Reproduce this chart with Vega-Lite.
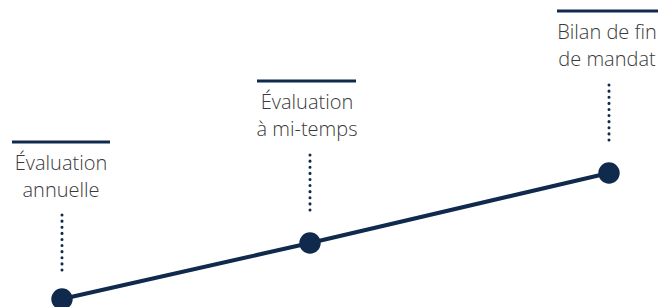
{
  "$schema": "https://vega.github.io/schema/vega-lite/v6.json",
  "width": 660,
  "height": 307,
  "padding": 0,
  "autosize": {"type": "none"},
  "background": "white",
  "config": {"view": {"stroke": null}},
  "data": {
    "values": [
      {"stage": "Évaluation\nannuelle", "t": 62, "value": 8, "span0": 12, "span1": 110, "head": 165, "text": 137, "dotTop": 92, "dotBottom": 34, "tx": 61},
      {"stage": "Évaluation\nà mi-temps", "t": 310, "value": 64, "span0": 257, "span1": 356, "head": 226, "text": 198, "dotTop": 152, "dotBottom": 95, "tx": 307},
      {"stage": "Bilan de fin\nde mandat", "t": 609, "value": 134, "span0": 557, "span1": 658, "head": 296, "text": 268, "dotTop": 222, "dotBottom": 166, "tx": 607}
    ]
  },
  "layer": [
    {
      "mark": {"type": "rule", "color": "#0f2a4c", "strokeWidth": 3},
      "encoding": {
        "x": {"field": "span0", "type": "quantitative", "scale": {"domain": [0, 660], "nice": false, "zero": false}, "axis": null},
        "x2": {"field": "span1"},
        "y": {"field": "head", "type": "quantitative", "scale": {"domain": [0, 307], "nice": false, "zero": false}, "axis": null}
      }
    },
    {
      "mark": {"type": "text", "font": "Open Sans", "fontWeight": 300, "fontSize": 20, "color": "#3a3a3a", "align": "center", "baseline": "alphabetic", "lineBreak": "\n", "lineHeight": 27},
      "encoding": {
        "x": {"field": "tx", "type": "quantitative"},
        "y": {"field": "text", "type": "quantitative"},
        "text": {"field": "stage"}
      }
    },
    {
      "mark": {"type": "rule", "color": "#0f2a4c", "strokeWidth": 3, "strokeCap": "round", "strokeDash": [0.1, 6]},
      "encoding": {
        "x": {"field": "t", "type": "quantitative"},
        "y": {"field": "dotTop", "type": "quantitative"},
        "y2": {"field": "dotBottom"}
      }
    },
    {
      "mark": {"type": "line", "color": "#0f2a4c", "strokeWidth": 4},
      "encoding": {
        "x": {"field": "t", "type": "quantitative"},
        "y": {"field": "value", "type": "quantitative"}
      }
    },
    {
      "mark": {"type": "point", "filled": true, "opacity": 1, "color": "#0f2a4c", "shape": "circle", "size": 460},
      "encoding": {
        "x": {"field": "t", "type": "quantitative"},
        "y": {"field": "value", "type": "quantitative"}
      }
    }
  ]
}
